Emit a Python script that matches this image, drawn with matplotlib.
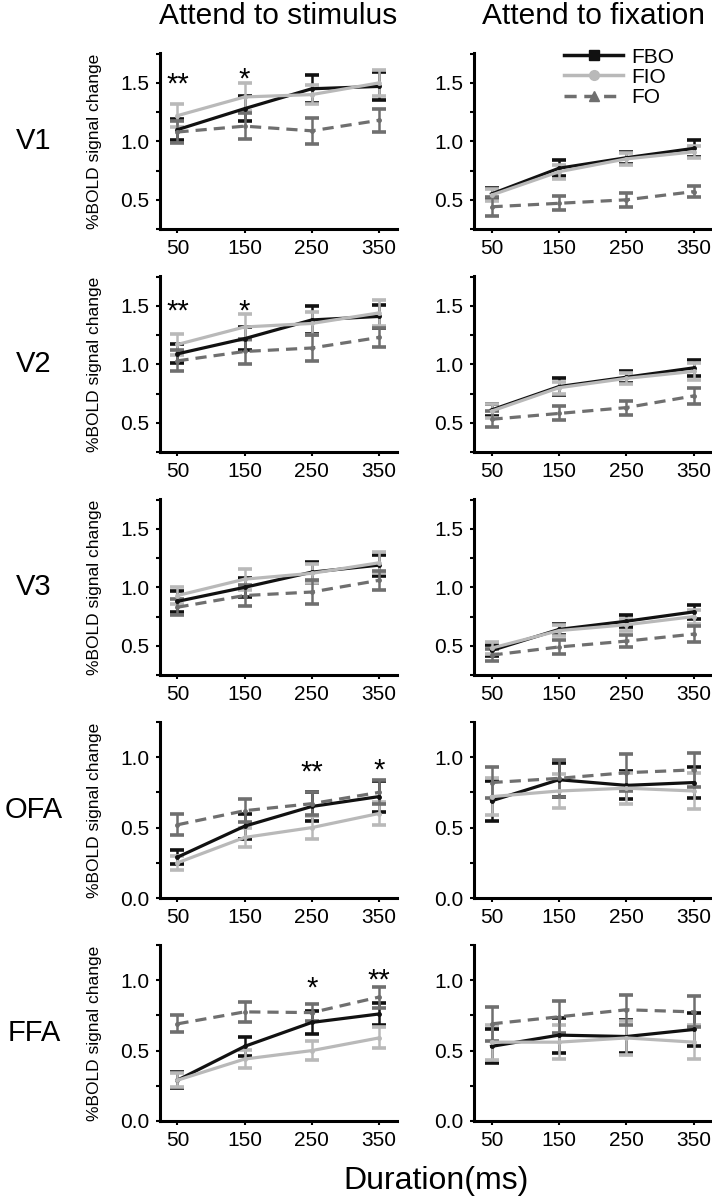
import matplotlib.pyplot as plt
from matplotlib.lines import Line2D
from matplotlib.ticker import MultipleLocator

plt.rcParams['font.family'] = ['Liberation Sans', 'DejaVu Sans']

durations = [50, 150, 250, 350]
regions = ['V1', 'V2', 'V3', 'OFA', 'FFA']
conditions = ['FBO', 'FIO', 'FO']
columns = ['Attend to stimulus', 'Attend to fixation']

# each list of lists: rows are FBO, FIO, FO
v1_stim_mean = [[1.10, 1.28, 1.45, 1.47], [1.22, 1.38, 1.40, 1.50], [1.08, 1.13, 1.09, 1.18]]
v1_stim_err = [[0.09, 0.11, 0.12, 0.12], [0.10, 0.12, 0.08, 0.11], [0.09, 0.11, 0.11, 0.10]]
v1_fix_mean = [[0.55, 0.77, 0.86, 0.94], [0.54, 0.74, 0.85, 0.91], [0.44, 0.47, 0.50, 0.57]]
v1_fix_err = [[0.05, 0.07, 0.05, 0.07], [0.05, 0.06, 0.05, 0.05], [0.08, 0.06, 0.06, 0.05]]

v2_stim_mean = [[1.09, 1.22, 1.38, 1.41], [1.17, 1.32, 1.35, 1.44], [1.03, 1.11, 1.14, 1.23]]
v2_stim_err = [[0.08, 0.10, 0.12, 0.10], [0.09, 0.11, 0.10, 0.11], [0.09, 0.11, 0.11, 0.08]]
v2_fix_mean = [[0.61, 0.81, 0.89, 0.97], [0.60, 0.80, 0.88, 0.94], [0.53, 0.58, 0.63, 0.73]]
v2_fix_err = [[0.05, 0.07, 0.05, 0.07], [0.06, 0.05, 0.05, 0.07], [0.07, 0.06, 0.06, 0.07]]

v3_stim_mean = [[0.88, 1.00, 1.13, 1.19], [0.93, 1.07, 1.12, 1.21], [0.83, 0.93, 0.96, 1.06]]
v3_stim_err = [[0.09, 0.08, 0.09, 0.09], [0.07, 0.09, 0.08, 0.09], [0.07, 0.09, 0.10, 0.08]]
v3_fix_mean = [[0.46, 0.64, 0.71, 0.79], [0.48, 0.63, 0.68, 0.75], [0.42, 0.49, 0.54, 0.60]]
v3_fix_err = [[0.05, 0.05, 0.05, 0.06], [0.05, 0.05, 0.05, 0.06], [0.05, 0.06, 0.05, 0.07]]

ofa_stim_mean = [[0.29, 0.51, 0.65, 0.72], [0.25, 0.43, 0.50, 0.60], [0.52, 0.62, 0.67, 0.75]]
ofa_stim_err = [[0.05, 0.09, 0.10, 0.11], [0.05, 0.07, 0.08, 0.08], [0.075, 0.08, 0.08, 0.085]]
ofa_fix_mean = [[0.69, 0.84, 0.80, 0.82], [0.72, 0.76, 0.78, 0.76], [0.82, 0.85, 0.89, 0.91]]
ofa_fix_err = [[0.14, 0.12, 0.10, 0.11], [0.13, 0.12, 0.11, 0.13], [0.11, 0.13, 0.13, 0.12]]

ffa_stim_mean = [[0.29, 0.53, 0.70, 0.76], [0.29, 0.44, 0.50, 0.59], [0.69, 0.775, 0.77, 0.88]]
ffa_stim_err = [[0.055, 0.07, 0.08, 0.08], [0.05, 0.065, 0.07, 0.075], [0.06, 0.07, 0.06, 0.075]]
ffa_fix_mean = [[0.53, 0.61, 0.60, 0.65], [0.56, 0.56, 0.59, 0.56], [0.69, 0.74, 0.79, 0.775]]
ffa_fix_err = [[0.12, 0.125, 0.12, 0.12], [0.125, 0.12, 0.12, 0.12], [0.12, 0.115, 0.105, 0.11]]

# significance marks on the attend-to-stimulus panels: (duration, height, text)
v1_stars = [(50, 1.56, '**'), (150, 1.60, '*')]
v2_stars = [(50, 1.53, '**'), (150, 1.53, '*')]
v3_stars = []
ofa_stars = [(250, 0.955, '**'), (350, 0.965, '*')]
ffa_stars = [(250, 1.00, '*'), (350, 1.06, '**')]

means = [[v1_stim_mean, v1_fix_mean], [v2_stim_mean, v2_fix_mean], [v3_stim_mean, v3_fix_mean],
         [ofa_stim_mean, ofa_fix_mean], [ffa_stim_mean, ffa_fix_mean]]
errs = [[v1_stim_err, v1_fix_err], [v2_stim_err, v2_fix_err], [v3_stim_err, v3_fix_err],
        [ofa_stim_err, ofa_fix_err], [ffa_stim_err, ffa_fix_err]]
stars = [v1_stars, v2_stars, v3_stars, ofa_stars, ffa_stars]

colors = ['#111111', '#b9b9b9', '#6f6f6f']
styles = ['-', '-', (0, (3.5, 2.2))]
legend_markers = ['s', 'o', '^']

W, H = 712, 1199
fig = plt.figure(figsize=(W / 100, H / 100), dpi=100)

ax_h = 176
lefts = [160, 474]
widths = [237, 238]

for r in range(5):
    bottom_px = 229 + 223 * r
    for c in range(2):
        ax = fig.add_axes([lefts[c] / W, 1 - bottom_px / H, widths[c] / W, ax_h / H])
        for k in range(3):
            ax.errorbar(durations, means[r][c][k], yerr=errs[r][c][k], color=colors[k],
                        ls=styles[k], lw=2.3, elinewidth=1.8, capsize=5, capthick=2.6,
                        marker='o', ms=2.5)
        ax.set_xlim(24, 377)
        ax.set_xticks(durations)
        if r < 3:
            ax.set_ylim(0.25, 1.756)
            ax.set_yticks([0.5, 1.0, 1.5])
        else:
            ax.set_ylim(0, 1.25)
            ax.set_yticks([0.0, 0.5, 1.0])
        ax.yaxis.set_minor_locator(MultipleLocator(0.25))
        for s in ['top', 'right']:
            ax.spines[s].set_visible(False)
        for s in ['left', 'bottom']:
            ax.spines[s].set_linewidth(2.2)
        ax.tick_params(which='both', direction='out', length=3, width=1.5, labelsize=15, pad=4.5)
        if c == 0:
            ax.set_ylabel('%BOLD signal change', fontsize=12.5)
            ax.yaxis.set_label_coords(-0.245, 0.5)
            for x, y, t in stars[r]:
                ax.annotate(t, xy=(x, y), xytext=(0, -12), textcoords='offset points',
                            ha='center', va='baseline', fontsize=21)
        if r == 0 and c == 1:
            handles = [Line2D([], [], color=colors[k], ls=styles[k], lw=2.5,
                              marker=legend_markers[k], ms=7) for k in range(3)]
            ax.legend(handles, conditions, loc='upper left', bbox_to_anchor=(0.38, 1.03),
                      frameon=False, fontsize=15, handlelength=2.8, handletextpad=0.4,
                      labelspacing=0.05, borderpad=0, borderaxespad=0)
    fig.text(34 / W, 1 - (bottom_px - ax_h / 2) / H, regions[r], ha='center', va='center', fontsize=21)

fig.text((160 + 237 / 2) / W, 1 - 16 / H, columns[0], ha='center', va='center', fontsize=21.5)
fig.text((474 + 238 / 2) / W, 1 - 16 / H, columns[1], ha='center', va='center', fontsize=21.5)
fig.text(436 / W, 1 - 1189 / H, 'Duration(ms)', ha='center', va='baseline', fontsize=23)

fig.savefig('out.png', dpi=100)
